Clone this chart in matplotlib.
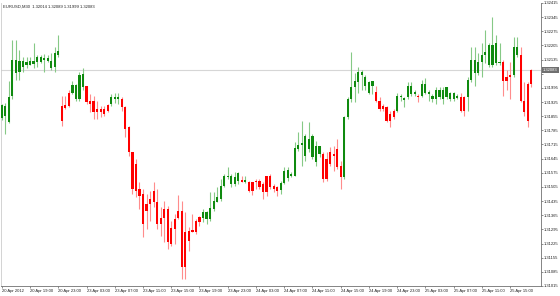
import numpy as np
import matplotlib
matplotlib.use("Agg")
import matplotlib.pyplot as plt
import matplotlib.transforms as mtransforms

plt.rcParams['font.family'] = ['Liberation Sans', 'DejaVu Sans']

symbol_title = "EURUSD,M30  1.32014 1.32089 1.31999 1.32083"
bid_price = 1.32083

# M30 bars, 20 Apr 2012 15:00 .. 25 Apr 2012 18:00
opens = [
    1.31845, 1.31854, 1.31825, 1.31953, 1.32071, 1.32076, 1.32100, 1.32110, 1.32110, 1.32115,
    1.32125, 1.32125, 1.32135, 1.32130, 1.32095, 1.32100, 1.32159, 1.31904, 1.31908, 1.31972,
    1.31972, 1.31938, 1.31938, 1.31997, 1.32002, 1.31928, 1.31928, 1.31889, 1.31889, 1.31889,
    1.31908, 1.31913, 1.31938, 1.31938, 1.31938, 1.31899, 1.31800, 1.31677, 1.31618, 1.31495,
    1.31471, 1.31421, 1.31446, 1.31485, 1.31431, 1.31352, 1.31397, 1.31397, 1.31303, 1.31348,
    1.31387, 1.31387, 1.31284, 1.31289, 1.31293, 1.31338, 1.31357, 1.31352, 1.31348, 1.31348,
    1.31397, 1.31431, 1.31446, 1.31510, 1.31554, 1.31520, 1.31520, 1.31535, 1.31539, 1.31530,
    1.31530, 1.31530, 1.31535, 1.31535, 1.31520, 1.31559, 1.31559, 1.31510, 1.31505, 1.31490,
    1.31525, 1.31549, 1.31559, 1.31559, 1.31692, 1.31712, 1.31657, 1.31692, 1.31652, 1.31628,
    1.31667, 1.31667, 1.31643, 1.31677, 1.31667, 1.31692, 1.31608, 1.31554, 1.31849, 1.31938,
    1.31997, 1.32022, 1.32061, 1.32002, 1.31972, 1.32002, 1.31977, 1.31928, 1.31904, 1.31899,
    1.31864, 1.31879, 1.31879, 1.31948, 1.31933, 1.31948, 1.31963, 1.31963, 1.31953, 1.31953,
    1.31972, 1.31963, 1.31938, 1.31938, 1.31948, 1.31938, 1.31948, 1.31938, 1.31938, 1.31943,
    1.31948, 1.31948, 1.31948, 1.32036, 1.32071, 1.32071, 1.32125, 1.32159, 1.32110, 1.32110,
    1.32120, 1.32120, 1.32125, 1.32051, 1.32061, 1.32061, 1.32159, 1.32159, 1.31928, 1.32012,
    1.32083,
]
highs = [
    1.31913, 1.31918, 1.32027, 1.32233, 1.32233, 1.32184, 1.32150, 1.32150, 1.32150, 1.32218,
    1.32159, 1.32159, 1.32164, 1.32159, 1.32169, 1.32199, 1.32258, 1.31953, 1.31953, 1.31987,
    1.32027, 1.32012, 1.32076, 1.32095, 1.32002, 1.31963, 1.31953, 1.31928, 1.31904, 1.31904,
    1.31913, 1.31963, 1.31972, 1.31972, 1.31948, 1.31904, 1.31805, 1.31677, 1.31643, 1.31530,
    1.31495, 1.31471, 1.31485, 1.31530, 1.31495, 1.31407, 1.31436, 1.31412, 1.31338, 1.31372,
    1.31466, 1.31436, 1.31382, 1.31308, 1.31372, 1.31348, 1.31362, 1.31397, 1.31387, 1.31480,
    1.31480, 1.31505, 1.31544, 1.31569, 1.31603, 1.31569, 1.31579, 1.31579, 1.31559, 1.31559,
    1.31535, 1.31530, 1.31544, 1.31544, 1.31530, 1.31559, 1.31569, 1.31520, 1.31510, 1.31535,
    1.31603, 1.31603, 1.31579, 1.31726, 1.31776, 1.31830, 1.31766, 1.31825, 1.31766, 1.31731,
    1.31707, 1.31677, 1.31677, 1.31702, 1.31707, 1.31741, 1.31633, 1.31854, 1.31948, 1.32174,
    1.32071, 1.32100, 1.32086, 1.32061, 1.32027, 1.32027, 1.32002, 1.31948, 1.31913, 1.31904,
    1.31879, 1.31889, 1.31972, 1.31963, 1.31948, 1.32022, 1.32022, 1.31987, 1.31963, 1.32036,
    1.32046, 1.31987, 1.31963, 1.31997, 1.31997, 1.31997, 1.31997, 1.31977, 1.31977, 1.31963,
    1.31972, 1.31953, 1.32051, 1.32199, 1.32199, 1.32169, 1.32218, 1.32282, 1.32218, 1.32346,
    1.32258, 1.32218, 1.32135, 1.32086, 1.32125, 1.32248, 1.32248, 1.32199, 1.32022, 1.32022,
    1.32089,
]
lows = [
    1.31835, 1.31766, 1.31820, 1.31938, 1.32036, 1.32036, 1.32076, 1.32095, 1.32110, 1.32095,
    1.32100, 1.32120, 1.32076, 1.32125, 1.32086, 1.32076, 1.32150, 1.31805, 1.31889, 1.31899,
    1.31963, 1.31928, 1.31928, 1.31987, 1.31913, 1.31874, 1.31840, 1.31840, 1.31849, 1.31854,
    1.31874, 1.31904, 1.31918, 1.31913, 1.31879, 1.31751, 1.31657, 1.31471, 1.31456, 1.31397,
    1.31259, 1.31298, 1.31338, 1.31407, 1.31298, 1.31264, 1.31234, 1.31200, 1.31215, 1.31225,
    1.31348, 1.31052, 1.31052, 1.31190, 1.31284, 1.31274, 1.31313, 1.31333, 1.31323, 1.31338,
    1.31387, 1.31431, 1.31436, 1.31505, 1.31544, 1.31505, 1.31510, 1.31520, 1.31530, 1.31525,
    1.31480, 1.31466, 1.31495, 1.31495, 1.31446, 1.31461, 1.31495, 1.31480, 1.31461, 1.31471,
    1.31520, 1.31535, 1.31554, 1.31559, 1.31682, 1.31608, 1.31633, 1.31677, 1.31643, 1.31608,
    1.31652, 1.31530, 1.31535, 1.31608, 1.31584, 1.31594, 1.31495, 1.31544, 1.31840, 1.31923,
    1.31923, 1.31972, 1.31987, 1.31987, 1.31963, 1.31963, 1.31923, 1.31879, 1.31879, 1.31825,
    1.31800, 1.31840, 1.31874, 1.31928, 1.31899, 1.31938, 1.31953, 1.31953, 1.31923, 1.31948,
    1.31963, 1.31928, 1.31923, 1.31913, 1.31938, 1.31913, 1.31938, 1.31928, 1.31928, 1.31938,
    1.31874, 1.31854, 1.31879, 1.32022, 1.32002, 1.32061, 1.32051, 1.32120, 1.32100, 1.32100,
    1.32110, 1.32110, 1.31953, 1.31987, 1.31938, 1.32051, 1.32150, 1.31923, 1.31854, 1.31800,
    1.31999,
]
closes = [
    1.31908, 1.31904, 1.31948, 1.32135, 1.32135, 1.32130, 1.32130, 1.32125, 1.32130, 1.32130,
    1.32150, 1.32150, 1.32145, 1.32145, 1.32130, 1.32169, 1.32179, 1.31830, 1.31894, 1.31904,
    1.32007, 1.32007, 1.32061, 1.32066, 1.31923, 1.31913, 1.31874, 1.31874, 1.31874, 1.31864,
    1.31879, 1.31948, 1.31948, 1.31948, 1.31899, 1.31790, 1.31677, 1.31495, 1.31485, 1.31461,
    1.31323, 1.31387, 1.31421, 1.31431, 1.31323, 1.31323, 1.31352, 1.31234, 1.31225, 1.31298,
    1.31352, 1.31111, 1.31111, 1.31239, 1.31284, 1.31284, 1.31333, 1.31382, 1.31382, 1.31402,
    1.31436, 1.31456, 1.31510, 1.31559, 1.31559, 1.31559, 1.31554, 1.31574, 1.31530, 1.31539,
    1.31485, 1.31485, 1.31530, 1.31505, 1.31480, 1.31480, 1.31505, 1.31495, 1.31485, 1.31525,
    1.31584, 1.31589, 1.31569, 1.31697, 1.31712, 1.31721, 1.31756, 1.31741, 1.31756, 1.31707,
    1.31707, 1.31544, 1.31544, 1.31618, 1.31657, 1.31603, 1.31554, 1.31849, 1.31938, 1.31997,
    1.32027, 1.32076, 1.32076, 1.32051, 1.32022, 1.32027, 1.31928, 1.31889, 1.31889, 1.31830,
    1.31830, 1.31849, 1.31953, 1.31953, 1.31943, 1.32002, 1.32002, 1.31977, 1.31948, 1.32012,
    1.32012, 1.31977, 1.31953, 1.31987, 1.31987, 1.31987, 1.31997, 1.31972, 1.31972, 1.31953,
    1.31879, 1.31879, 1.32036, 1.32135, 1.32135, 1.32125, 1.32159, 1.32174, 1.32209, 1.32209,
    1.32218, 1.32125, 1.32027, 1.32027, 1.32051, 1.32199, 1.32199, 1.31928, 1.31874, 1.31830,
    1.32014,
]

time_labels = [
    "20 Apr 2012", "20 Apr 19:00", "20 Apr 23:00", "23 Apr 03:00", "23 Apr 07:00",
    "23 Apr 11:00", "23 Apr 15:00", "23 Apr 19:00", "23 Apr 23:00", "24 Apr 03:00",
    "24 Apr 07:00", "24 Apr 11:00", "24 Apr 15:00", "24 Apr 19:00", "24 Apr 23:00",
    "25 Apr 03:00", "25 Apr 07:00", "25 Apr 11:00", "25 Apr 15:00",
]
bars_per_label = 8

price_top = 1.32415
price_bottom = 1.31015
price_step = 0.0007

# ---- colours ----
body_up = '#0f8a0f'
body_dn = '#ff0000'
wick_up = '#86c986'
wick_dn = '#ff8c8c'
text_color = '#202020'
fs = 3.0

o = np.array(opens)
h = np.array(highs)
l = np.array(lows)
c = np.array(closes)
idx = np.arange(len(o))
up = c >= o

fig = plt.figure(figsize=(5.6, 2.96), dpi=100)
ax = fig.add_axes([1 / 560, 10 / 296, 540 / 560, 283 / 296])

ax.axhline(bid_price, color='#d6d6d6', lw=0.8, zorder=0)

ax.vlines(idx[up], l[up], h[up], color=wick_up, lw=0.8, zorder=2)
ax.vlines(idx[~up], l[~up], h[~up], color=wick_dn, lw=0.8, zorder=2)

body_bottom = np.minimum(o, c)
body_height = np.maximum(np.abs(c - o), 0.00005)
ax.bar(idx[up], body_height[up], bottom=body_bottom[up], width=0.62,
       color=body_up, linewidth=0, zorder=3)
ax.bar(idx[~up], body_height[~up], bottom=body_bottom[~up], width=0.62,
       color=body_dn, linewidth=0, zorder=3)

ax.set_xlim(-0.23, 152.75)
ax.set_ylim(price_bottom, price_top)

# price scale on the right
ax.yaxis.tick_right()
yticks = np.arange(price_top, price_bottom - 1e-6, -price_step)
ax.set_yticks(yticks)
ylabels = []
for v in yticks:
    if abs(v - bid_price) < 0.0004:
        ylabels.append("")
    else:
        ylabels.append("%.5f" % v)
ax.set_yticklabels(ylabels)

xticks = [i * bars_per_label for i in range(len(time_labels))]
ax.set_xticks(xticks)
ax.set_xticklabels(time_labels)
for lab in ax.get_xticklabels():
    lab.set_ha('left')

ax.tick_params(axis='both', length=1.5, width=0.5, labelsize=fs, pad=0.6,
               colors='#606060', labelcolor=text_color)

ax.spines['top'].set_visible(False)
ax.spines['left'].set_color('#cccccc')
ax.spines['left'].set_linewidth(0.6)
ax.spines['bottom'].set_color('#707070')
ax.spines['bottom'].set_linewidth(0.6)
ax.spines['right'].set_color('#707070')
ax.spines['right'].set_linewidth(0.6)

ax.text(0.004, 0.993, symbol_title, transform=ax.transAxes, ha='left', va='top',
        fontsize=fs, color=text_color)

trans = mtransforms.blended_transform_factory(ax.transAxes, ax.transData)
ax.text(1.004, bid_price, "%.5f" % bid_price, transform=trans, ha='left', va='center',
        fontsize=fs, color='#ffffff',
        bbox=dict(boxstyle='square,pad=0.2', fc='#707070', ec='none'))

fig.savefig("out.png", dpi=100, facecolor='white')
